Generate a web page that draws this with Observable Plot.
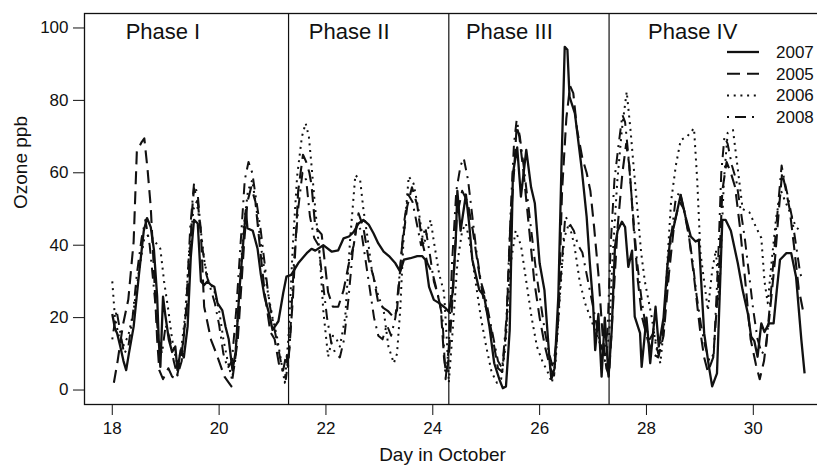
<!DOCTYPE html>
<html>
<head>
<meta charset="utf-8">
<script src="https://cdn.jsdelivr.net/npm/d3@7"></script>
<script src="https://cdn.jsdelivr.net/npm/@observablehq/plot@0.6"></script>
<style>
  html, body { margin: 0; padding: 0; background: white; }
  #chart svg { display: block; overflow: hidden; }
</style>
</head>
<body>
<div id="chart"></div>
<script>
// ---- data (day in October, ozone ppb) ----
const days2007 = [18.00,18.05,18.09,18.15,18.21,18.26,18.31,18.40,18.50,18.59,18.65,18.72,18.78,18.84,18.87,18.90,18.95,18.99,19.06,19.12,19.18,19.22,19.28,19.34,19.41,19.47,19.53,19.60,19.66,19.72,19.78,19.85,19.91,19.97,20.06,20.12,20.18,20.25,20.31,20.38,20.44,20.50,20.53,20.63,20.72,20.78,20.85,20.95,21.00,21.11,21.20,21.26,21.35,21.48,21.64,21.73,21.80,21.95,22.11,22.23,22.33,22.43,22.52,22.61,22.70,22.80,22.89,22.98,23.08,23.18,23.30,23.39,23.46,23.58,23.71,23.80,23.86,23.93,24.02,24.12,24.24,24.30,24.37,24.43,24.46,24.52,24.62,24.68,24.74,24.87,24.96,25.06,25.15,25.25,25.31,25.37,25.44,25.50,25.58,25.65,25.75,25.84,25.91,26.00,26.09,26.19,26.22,26.28,26.35,26.41,26.47,26.52,26.56,26.66,26.79,26.88,26.94,27.00,27.04,27.10,27.16,27.22,27.29,27.35,27.41,27.46,27.54,27.60,27.66,27.73,27.78,27.88,27.91,28.00,28.07,28.17,28.23,28.32,28.39,28.45,28.51,28.64,28.73,28.83,28.92,28.98,29.08,29.17,29.23,29.32,29.42,29.48,29.58,29.71,29.80,29.90,29.96,30.02,30.08,30.15,30.21,30.29,30.38,30.44,30.50,30.62,30.71,30.80,30.90,30.96];
const ozone2007 = [21,17,15.7,12,8,5.5,10,17.5,32,44,47.5,45,38.7,25.8,13.8,6.4,25.8,21,13.8,10.5,12,5.5,11,9,17.5,36.8,47,46,30,29,30,29,28.5,24,22,17.5,14,5.5,10.5,27.6,38.6,49.7,44.7,44,39,32,25.8,20.3,16.6,19,26.8,31.3,31.8,35,37.8,39,38.5,40,38.2,38.6,41.9,42.4,43.7,46,47,45.7,43.3,40.5,38.2,37,35,32.7,36,36.4,37,37,36,28.5,24.9,24,22.6,21.6,26.7,41.4,55,44,54,46,36,27.6,26,17.5,7.4,2.8,0.5,1,16.6,59.8,67,53.4,66.3,56,51.6,35,27.6,7.4,3,6,25.8,62.6,94.8,94,81,76.4,60.8,47.9,35,24,11,21,3.7,20,3.7,16.6,39.6,44,46.5,45,34,38.5,20.3,15.7,6.4,20,7.4,23,12,20,34,42.4,45,53.9,47.9,42.4,41,41.5,15.7,6.4,1,4.6,47,47,44,35,27.6,21,14.7,13.5,9.2,18.4,16,18.4,18.4,27.6,36,37.8,37.8,31.3,13.8,4.6];

const days2005 = [18.03,18.10,18.20,18.30,18.40,18.46,18.55,18.60,18.66,18.72,18.78,18.84,18.88,18.95,19.05,19.12,19.20,19.30,19.41,19.50,19.53,19.60,19.66,19.72,19.85,19.95,20.10,20.23,20.35,20.47,20.53,20.60,20.68,20.76,20.86,20.96,21.04,21.14,21.20,21.26,21.29,21.38,21.48,21.57,21.63,21.69,21.73,21.80,21.92,21.98,22.04,22.13,22.23,22.33,22.43,22.52,22.61,22.70,22.80,22.89,22.98,23.08,23.17,23.27,23.33,23.42,23.52,23.61,23.71,23.80,23.90,24.00,24.05,24.15,24.21,24.25,24.30,24.38,24.45,24.55,24.65,24.75,24.85,24.95,25.05,25.15,25.22,25.30,25.38,25.45,25.52,25.57,25.62,25.70,25.80,25.90,26.00,26.10,26.20,26.27,26.35,26.42,26.50,26.57,26.63,26.70,26.80,26.88,26.95,27.02,27.10,27.18,27.25,27.30,27.38,27.46,27.55,27.62,27.68,27.76,27.84,27.92,28.02,28.12,28.22,28.32,28.42,28.52,28.62,28.70,28.80,28.90,29.00,29.08,29.15,29.25,29.35,29.42,29.50,29.58,29.66,29.75,29.85,29.95,30.05,30.12,30.20,30.30,30.40,30.48,30.54,30.60,30.68,30.76,30.85,30.93];
const ozone2005 = [2,8,18,25,41,66,68.5,69.5,61,50.6,33,14,5.5,3,6,3.7,3,10,25,50.6,55.7,52,43,23,13.8,10,3.7,1,14,41,52,56,52,40,26,16,14,5.5,5.5,10,6.4,25,55,65,63,60,56.6,45,43,35,27,23,23,27.6,35,40,48.8,45,36,31.3,24,22.6,21.7,20,22,39,50.6,56,51,41,35,32,29,22.6,9,4.5,9,28,48,55,52,44,34,25,20,12,6,5,18,45,60,73,70,60,45,30,20,12,6,4,20,55,75,84,82,72,64,60,55,45,32,15,6,4,25,45,60,68,62,45,30,20,14,10,9,15,32,46,52,50,42,30,17,9,5,9,30,55,63,60,56,45,30,14,7,3,8,20,35,50,60,56,50,40,28,22];

const days2006 = [18.00,18.05,18.12,18.20,18.30,18.40,18.50,18.60,18.70,18.80,18.90,18.97,19.05,19.12,19.20,19.28,19.36,19.44,19.52,19.58,19.65,19.72,19.80,19.90,20.00,20.08,20.16,20.24,20.30,20.38,20.46,20.54,20.62,20.70,20.80,20.90,21.00,21.08,21.16,21.23,21.30,21.38,21.46,21.55,21.62,21.68,21.73,21.80,21.88,21.95,22.04,22.13,22.20,22.26,22.36,22.45,22.55,22.64,22.70,22.77,22.86,22.98,23.08,23.17,23.27,23.33,23.39,23.45,23.55,23.64,23.73,23.83,23.90,23.96,24.02,24.12,24.21,24.27,24.30,24.38,24.46,24.55,24.62,24.70,24.80,24.90,25.00,25.10,25.20,25.28,25.36,25.45,25.55,25.65,25.75,25.85,25.95,26.05,26.15,26.23,26.30,26.38,26.46,26.55,26.65,26.75,26.85,26.95,27.05,27.15,27.22,27.30,27.36,27.45,27.54,27.63,27.70,27.76,27.83,27.90,27.97,28.10,28.18,28.26,28.33,28.39,28.46,28.55,28.64,28.76,28.89,28.95,29.01,29.08,29.15,29.23,29.30,29.36,29.40,29.45,29.52,29.62,29.71,29.80,29.93,30.05,30.15,30.21,30.27,30.34,30.43,30.52,30.60,30.69,30.80,30.90];
const ozone2006 = [30,20,15,12,15,22,33,42,43,41,39,30,22,14,8,10,20,38,50,52,45,36,30,28,22,14,8,3,8,28,45,55,58,50,38,28,20,15,8,2,15,40,59,70,73.7,70,62,50,38,22,9.2,15,14,12,20,41,59.4,58,50,43,33,26,22,12,7.4,10,22,41,59,57,50,40,44,47,41,32,27,12,2,18,35,44,46,40,30,20,12,5,2,3,12,34,44,40,30,20,12,8,5,2,8,26,42,46,40,30,24,20,16,12,8,15,35,57,72,82.4,72,61.7,50,38,30,20,12,7.4,18,35,52,62,69,70,72.3,58,38,30,22,33,38.7,25,40,58,71,71.8,61,50,49,45,42,30,24,35,47.9,55,52,49,45,43.7];

const days2008 = [18.00,18.08,18.15,18.22,18.30,18.38,18.46,18.55,18.62,18.70,18.78,18.86,18.93,19.00,19.08,19.15,19.22,19.30,19.38,19.46,19.53,19.60,19.68,19.76,19.84,19.92,20.00,20.08,20.16,20.24,20.32,20.40,20.48,20.55,20.62,20.70,20.78,20.86,20.94,21.02,21.10,21.18,21.25,21.32,21.40,21.48,21.56,21.63,21.70,21.78,21.86,21.94,22.02,22.10,22.18,22.26,22.34,22.42,22.50,22.58,22.66,22.74,22.82,22.90,22.98,23.06,23.14,23.22,23.30,23.38,23.46,23.54,23.62,23.70,23.78,23.86,23.94,24.02,24.10,24.18,24.24,24.30,24.36,24.44,24.52,24.58,24.66,24.74,24.82,24.90,24.98,25.06,25.14,25.22,25.30,25.38,25.46,25.52,25.57,25.63,25.70,25.78,25.86,25.94,26.02,26.10,26.18,26.25,26.32,26.40,26.48,26.56,26.64,26.72,26.80,26.88,26.96,27.04,27.12,27.20,27.27,27.33,27.40,27.48,27.55,27.60,27.66,27.74,27.82,27.90,27.98,28.06,28.14,28.22,28.30,28.38,28.46,28.54,28.62,28.70,28.78,28.86,28.94,29.02,29.10,29.18,29.26,29.34,29.40,29.46,29.52,29.60,29.68,29.76,29.84,29.92,30.00,30.08,30.16,30.24,30.32,30.40,30.47,30.53,30.58,30.64,30.72,30.80,30.88,30.95];
const ozone2008 = [14,22,16,10,12,20,32,42,47,40,28,15,10,18,14,8,4,8,22,45,57,54,40,32,28,24,18,10,6,8,22,40,58,63,60,52,44,34,24,18,12,6,3,12,35,50,60,58,48,42,40,30,20,13,10,9,14,25,38,46,44,36,28,20,15,14,18,15,20,32,46,54,52,46,40,45,38,30,26,20,3,12,35,55,62,64,58,48,38,30,26,20,14,8,6,20,50,68,74.6,70,62,52,42,32,24,16,10,6,14,32,48,46,44,40,38,32,26,20,14,10,16,40,58,68,76,74,65,50,36,26,18,14,16,10,15,28,42,52,55,50,44,36,26,18,12,8,10,35,60,70,68,62,58,50,42,32,22,14,10,12,25,40,52,62,58,54,48,40,32,30];

const years = ["2007", "2005", "2006", "2008"];
const dashes = ["none", "13,7", "2,4.7", "2,6,11,6"];
const widths = [2.3, 2.1, 2, 2];

const phaseBreaks = [21.3, 24.3, 27.3];
const phaseLabels = ["Phase I", "Phase II", "Phase III", "Phase IV"];
const phaseLabelDays = [18.25, 21.68, 24.62, 28.03];
const phaseLabelLevel = [99, 99, 99, 99];

const xTicks = [18, 20, 22, 24, 26, 28, 30];
const yTicks = [0, 20, 40, 60, 80, 100];

// ---- build tables ----
const series = [
  d3.zip(days2007, ozone2007),
  d3.zip(days2005, ozone2005),
  d3.zip(days2006, ozone2006),
  d3.zip(days2008, ozone2008)
].map(s => s.map(([day, ozone]) => ({day, ozone})));

const phaseData = phaseLabels.map((label, i) => ({label, day: phaseLabelDays[i], level: phaseLabelLevel[i]}));

const FONT = "'Liberation Sans', Arial, Helvetica, sans-serif";

const lineMarks = series.map((data, i) =>
  Plot.line(data, {
    x: "day", y: "ozone",
    stroke: "#111",
    strokeWidth: widths[i],
    strokeDasharray: dashes[i] === "none" ? undefined : dashes[i],
    strokeLinejoin: "round",
    strokeLinecap: "butt"
  })
);

const svg = Plot.plot({
  width: 817,
  height: 472,
  marginLeft: 84,
  marginRight: -17,
  marginTop: 13,
  marginBottom: 68,
  style: {fontFamily: FONT, fontSize: "17px", background: "white", color: "#111", overflow: "hidden"},
  x: {domain: [17.48, 31.52]},
  y: {domain: [-4, 104]},
  marks: [
    ...lineMarks,
    Plot.ruleX(phaseBreaks, {stroke: "#111", strokeWidth: 1.2}),
    Plot.frame({stroke: "#111", strokeWidth: 1.3}),
    Plot.text(phaseData, {x: "day", y: "level", text: "label", textAnchor: "start", fontSize: 22, fill: "#111"}),
    Plot.axisX({ticks: xTicks, tickSize: 11, tickPadding: 6, fontSize: 17, label: null, stroke: "#111"}),
    Plot.axisY({ticks: yTicks, tickSize: 11, tickPadding: 5, fontSize: 17, label: null, stroke: "#111"}),
    Plot.text(["Day in October"], {text: d => d, frameAnchor: "bottom", dy: 56, dx: -17, fontSize: 19, fill: "#111"}),
    Plot.text(["Ozone ppb"], {text: d => d, frameAnchor: "left", rotate: -90, dx: -64, fontSize: 19, fill: "#111"})
  ]
});

// legend (inside the plot area, top-right)
const sel = d3.select(svg);
const lg = sel.append("g")
  .attr("font-family", FONT).attr("font-size", 17).attr("fill", "#111")
  .attr("text-anchor", "start");
years.forEach((y, i) => {
  const cy = 52 + i * 21.7;
  lg.append("line")
    .attr("x1", 727).attr("x2", 759).attr("y1", cy).attr("y2", cy)
    .attr("stroke", "#111").attr("stroke-width", widths[i])
    .attr("stroke-dasharray", dashes[i] === "none" ? null : dashes[i]);
  lg.append("text").attr("x", 776).attr("y", cy).attr("dy", "0.35em").text(y);
});

document.getElementById("chart").appendChild(svg);
</script>
</body>
</html>
